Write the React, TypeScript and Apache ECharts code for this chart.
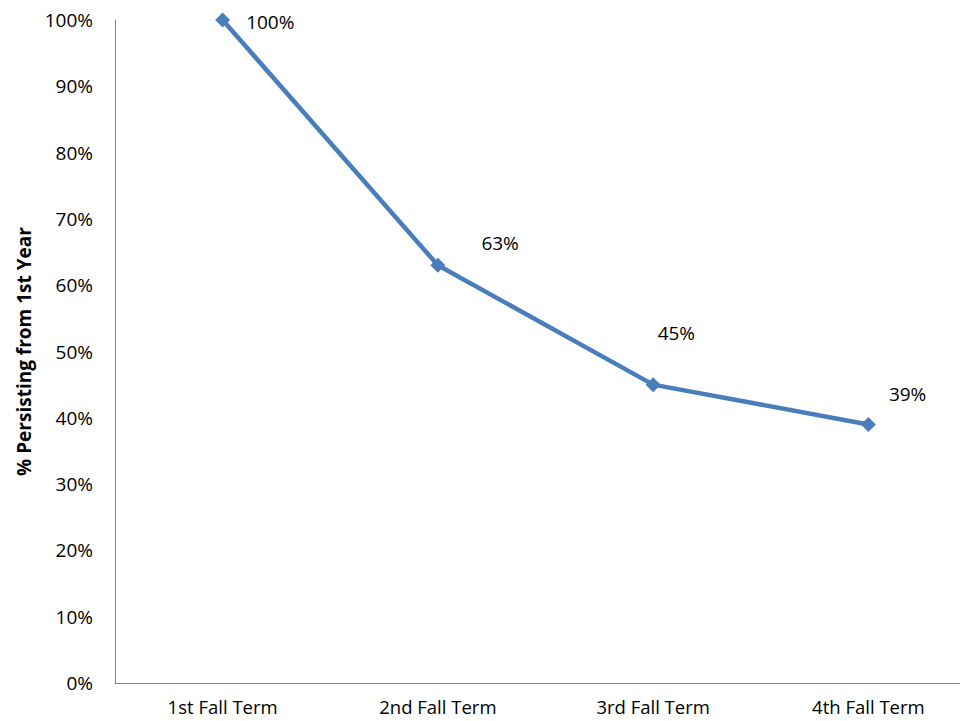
import React, { useEffect, useRef } from "react";
import * as echarts from "echarts";

const categories = ["1st Fall Term", "2nd Fall Term", "3rd Fall Term", "4th Fall Term"];
const persisting = [1.0, 0.63, 0.45, 0.39];
const labelOffsets: [number, number][] = [
  [16, 2],
  [36, -22],
  [-3, -52],
  [13, -30],
];

const FONT = "Open Sans";

export default function App() {
  const ref = useRef<HTMLDivElement>(null);
  useEffect(() => {
    if (!ref.current) return;
    const chart = echarts.init(ref.current, undefined, { renderer: "svg" });
    chart.setOption({
      animation: false,
      backgroundColor: "#ffffff",
      grid: { left: 115, top: 20, bottom: 38, right: 0, containLabel: false },
      xAxis: {
        type: "category",
        data: categories,
        boundaryGap: true,
        axisLine: { show: true, lineStyle: { color: "#868686", width: 1 } },
        axisTick: { show: false },
        axisLabel: {
          color: "#000",
          fontSize: 18.5,
          lineHeight: 19,
          fontFamily: FONT,
          margin: 14,
          interval: 0,
        },
      },
      yAxis: {
        type: "value",
        min: 0,
        max: 1,
        interval: 0.1,
        name: "% Persisting from 1st Year",
        nameLocation: "middle",
        nameGap: 82,
        nameTextStyle: { color: "#000", fontSize: 19, fontWeight: "bold", fontFamily: FONT },
        axisLine: { show: true, lineStyle: { color: "#868686", width: 1 } },
        axisTick: { show: false },
        splitLine: { show: false },
        axisLabel: {
          color: "#000",
          fontSize: 19,
          fontFamily: FONT,
          margin: 22,
          formatter: (v: number) => `${Math.round(v * 100)}%`,
        },
      },
      series: [
        {
          type: "line",
          data: persisting.map((v, i) => ({
            value: v,
            label: { offset: labelOffsets[i] },
          })),
          symbol: "diamond",
          symbolSize: 15,
          lineStyle: { color: "#4a7ebb", width: 4.5 },
          itemStyle: { color: "#4a7ebb" },
          label: {
            show: true,
            position: "right",
            distance: 0,
            color: "#000",
            fontSize: 19,
            fontFamily: FONT,
            formatter: (p: any) => `${Math.round(p.value * 100)}%`,
          },
        },
      ],
    });
    return () => chart.dispose();
  }, []);
  return (
    <div style={{ position: "absolute", left: 0, top: 0, width: 960, height: 721, overflow: "hidden" }}>
      <div ref={ref} style={{ width: 976, height: 721 }} />
    </div>
  );
}
